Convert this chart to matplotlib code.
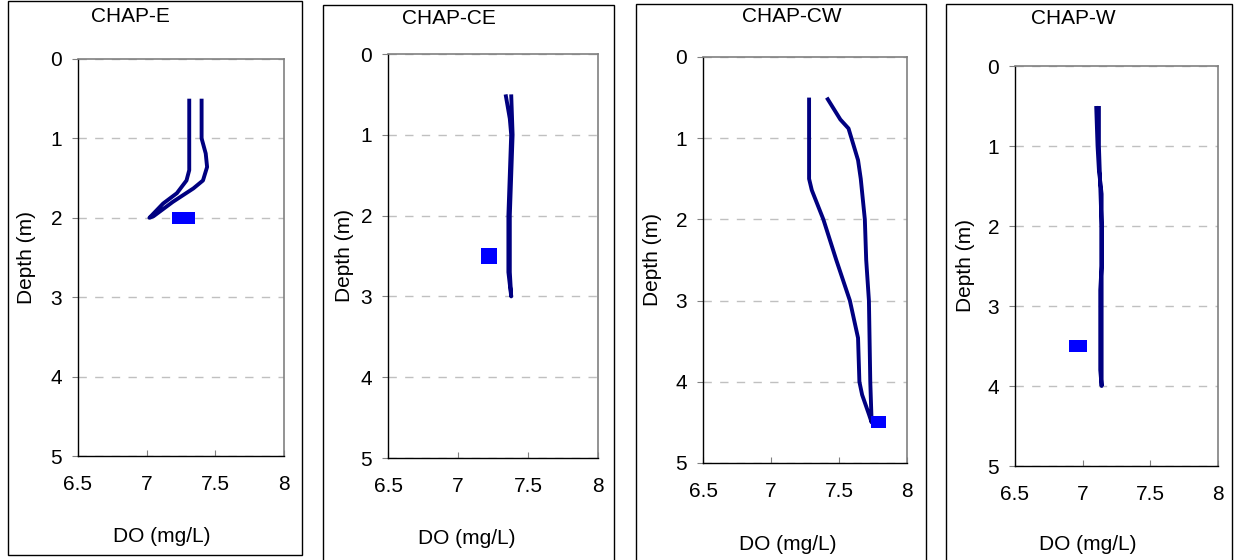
import matplotlib.pyplot as plt
from matplotlib.patches import Rectangle

plt.rcParams['font.family'] = ['Liberation Sans', 'DejaVu Sans']
plt.rcParams['font.size'] = 15

# site names
sites = ['CHAP-E', 'CHAP-CE', 'CHAP-CW', 'CHAP-W']

# sonde profiles (down cast then back up), DO in mg/L, depth in m
e_do = [7.31, 7.31, 7.31, 7.29, 7.22, 7.12, 7.02, 7.05, 7.19, 7.34, 7.41, 7.44, 7.43, 7.40, 7.40, 7.40]
e_depth = [0.5, 1.0, 1.4, 1.53, 1.69, 1.82, 2.0, 1.98, 1.8, 1.63, 1.53, 1.36, 1.19, 1.0, 0.8, 0.5]

ce_do = [7.34, 7.37, 7.38, 7.37, 7.36, 7.36, 7.36, 7.38, 7.37, 7.37, 7.37, 7.38, 7.39, 7.38]
ce_depth = [0.5, 0.8, 1.0, 1.5, 2.0, 2.5, 2.7, 3.0, 2.7, 2.5, 2.0, 1.5, 1.0, 0.5]

cw_do = [7.28, 7.28, 7.30, 7.385, 7.48, 7.58, 7.64, 7.65, 7.67, 7.72, 7.74,
         7.73, 7.72, 7.70, 7.69, 7.66, 7.64, 7.57, 7.51, 7.41]
cw_depth = [0.5, 1.5, 1.64, 2.0, 2.5, 3.0, 3.46, 4.0, 4.16, 4.4, 4.5,
            4.0, 3.0, 2.5, 2.0, 1.5, 1.27, 0.88, 0.77, 0.5]

w_do = [7.10, 7.11, 7.12, 7.14, 7.14, 7.14, 7.13, 7.13, 7.13, 7.14,
        7.14, 7.14, 7.14, 7.14, 7.13, 7.12, 7.12]
w_depth = [0.5, 1.0, 1.3, 1.6, 2.0, 2.5, 2.8, 3.5, 3.8, 4.0,
           3.8, 3.0, 2.5, 2.0, 1.5, 1.0, 0.5]

# grab samples
e_samp_do = [7.23, 7.31]
e_samp_depth = [2.0, 2.0]
ce_samp_do = [7.22]
ce_samp_depth = [2.5]
cw_samp_do = [7.78, 7.80]
cw_samp_depth = [4.5, 4.5]
w_samp_do = [6.94, 6.985]
w_samp_depth = [3.5, 3.5]

profiles = [(e_do, e_depth), (ce_do, ce_depth), (cw_do, cw_depth), (w_do, w_depth)]
samples = [(e_samp_do, e_samp_depth), (ce_samp_do, ce_samp_depth),
           (cw_samp_do, cw_samp_depth), (w_samp_do, w_samp_depth)]

W, H = 1235, 560
fig = plt.figure(figsize=(W / 100, H / 100), dpi=100)

# pixel layout: axes box (left, top, right, bottom), outer frame, title/label spots
axes_px = [(78, 59, 284, 456), (388, 54, 598, 458), (703, 57, 907, 463), (1015, 66, 1218, 466)]
frame_px = [(8, 1, 302, 555), (323, 5, 614, 575), (636, 4, 926, 575), (946, 4, 1232, 575)]
title_px = [(130, 16), (449, 18), (792, 17), (1073, 18)]
xlab_px = [(162, 537), (467, 539), (788, 545), (1088, 545)]
ylab_x = [27, 344, 653, 965]
msize = [8.5, 11, 8.5, 8.5]

for i in range(4):
    l, t, r, b = axes_px[i]
    ax = fig.add_axes([l / W, 1 - b / H, (r - l) / W, (b - t) / H])
    do, depth = profiles[i]
    ax.plot(do, depth, color='#000080', lw=2.8, solid_joinstyle='round', solid_capstyle='butt')
    sdo, sdepth = samples[i]
    ax.plot(sdo, sdepth, 's', color='#0000FF', ms=msize[i], mew=0, ls='none')

    ax.set_xlim(6.5, 8)
    ax.set_ylim(5, 0)
    ax.set_xticks([6.5, 7, 7.5, 8])
    ax.set_xticklabels(['6.5', '7', '7.5', '8'])
    ax.set_yticks([0, 1, 2, 3, 4, 5])
    ax.tick_params(axis='x', direction='in', length=4, pad=14, color='#808080')
    ax.tick_params(axis='y', direction='out', length=4.5, pad=7, color='#808080')
    ax.yaxis.grid(True, color='#c0c0c0', ls=(0, (6, 6)), lw=1)
    ax.set_axisbelow(True)
    for s in ['left', 'bottom']:
        ax.spines[s].set_color('black')
        ax.spines[s].set_linewidth(1)
    for s in ['top', 'right']:
        ax.spines[s].set_color('#808080')
        ax.spines[s].set_linewidth(1.2)

    fig.text(title_px[i][0] / W, 1 - title_px[i][1] / H, sites[i], ha='center', va='center')
    fig.text(xlab_px[i][0] / W, 1 - xlab_px[i][1] / H, 'DO (mg/L)', ha='center', va='center')
    fig.text(ylab_x[i] / W, 1 - (t + b) / 2 / H, 'Depth (m)', ha='center', va='center', rotation=90)

    fl, ft, fr, fb = frame_px[i]
    fig.patches.append(Rectangle((fl / W, 1 - fb / H), (fr - fl) / W, (fb - ft) / H,
                                 transform=fig.transFigure, fill=False, ec='black', lw=1))

fig.savefig('out.png', dpi=100)
